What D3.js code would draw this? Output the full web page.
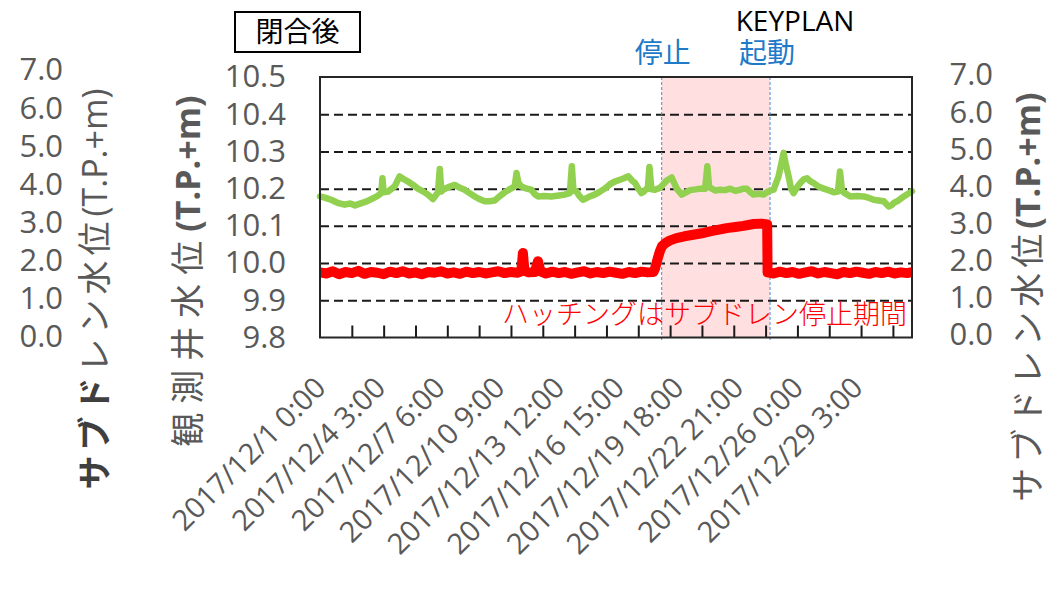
<!DOCTYPE html>
<html><head><meta charset="utf-8">
<script src="https://cdn.jsdelivr.net/npm/d3@7"></script>
<style>
html,body{margin:0;padding:0;background:#fff;}
svg text{font-family:"Open Sans","Noto Sans CJK JP",sans-serif;}
</style></head>
<body><svg id="c" width="1058" height="589"></svg>
<script>
// ---------- data ----------
const startDate = Date.UTC(2017, 11, 1, 0, 0);
const endDate = Date.UTC(2018, 0, 1, 0, 0);
// observation well (green) : hours since 2017/12/1 0:00, level T.P.+m
const greenHours = [0,6,14,22,31,38,44,52,58,64.5,72,77,78.5,80,85.5,93.8,100,105,110.6,117,123,130,135.7,142,148.3,150.5,152.5,154.6,162,169.3,175,181.8,188,194.4,200,207,213,219.5,226,232.1,238,244.7,247,249.5,253,260,265.6,270,274,282,290.7,298,307.5,314,316.5,318.5,322.2,326,330.5,338,345.2,352,357.8,364.5,370.3,377,382,387.5,392,396,400,404,407,410.6,412,414,416.5,421,427.3,435.7,442,448.3,454.6,460,465,472,477.6,484,486.8,489,492.3,497,502.8,509,515.4,522,528,532,536.4,540,544.8,551,557.4,563.7,570,576.3,582.6,585,588.9,592,595.2,600,603.6,608,612,616,620.4,627,633,640,645.6,651,653.5,656,658.2,666.5,675,683.3,690,695.9,702,708.5,712,714.8,718,722,725.3,733.7,739,744];
const greenValues = [10.179,10.176,10.170,10.162,10.157,10.160,10.155,10.161,10.165,10.172,10.180,10.188,10.228,10.190,10.192,10.206,10.233,10.226,10.219,10.210,10.200,10.192,10.184,10.172,10.190,10.253,10.192,10.197,10.205,10.210,10.203,10.197,10.188,10.179,10.172,10.166,10.166,10.168,10.180,10.190,10.198,10.206,10.242,10.215,10.206,10.200,10.197,10.185,10.179,10.180,10.179,10.181,10.184,10.188,10.260,10.195,10.193,10.180,10.170,10.178,10.184,10.192,10.200,10.212,10.219,10.224,10.228,10.233,10.222,10.215,10.200,10.188,10.192,10.200,10.200,10.258,10.198,10.197,10.202,10.222,10.230,10.200,10.184,10.190,10.196,10.198,10.200,10.200,10.260,10.205,10.200,10.195,10.197,10.196,10.200,10.194,10.197,10.200,10.200,10.192,10.184,10.186,10.184,10.193,10.197,10.233,10.296,10.270,10.233,10.200,10.188,10.205,10.215,10.225,10.228,10.220,10.215,10.205,10.200,10.195,10.190,10.192,10.246,10.195,10.190,10.179,10.180,10.179,10.175,10.170,10.168,10.166,10.158,10.152,10.155,10.163,10.166,10.179,10.186,10.193];
// sub-drain pit (red)
const redHours = [0,8,16,24,32,40,48,56,64,72,80,88,96,104,112,120,128,136,144,152,160,168,176,184,192,200,208,216,224,232,240,248,253,255,257,262,270,274,277,284,292,300,308,316,324,332,340,348,356,364,372,380,388,396,404,412,419,421,424,427,429.7,435,440,448,458,469,480,490,500,511,522,532,545,555,562,562.5,570,578,586,594,602,610,618,626,634,642,650,658,666,674,682,690,698,706,714,722,730,738,744];
const redValues = [9.975,9.972,9.978,9.970,9.976,9.973,9.979,9.971,9.976,9.974,9.970,9.977,9.973,9.978,9.972,9.975,9.970,9.976,9.974,9.978,9.972,9.975,9.971,9.977,9.973,9.976,9.972,9.975,9.978,9.973,9.976,9.974,9.978,10.027,9.979,9.975,9.976,10.005,9.978,9.972,9.977,9.973,9.976,9.971,9.975,9.978,9.972,9.976,9.973,9.977,9.974,9.971,9.976,9.973,9.977,9.975,9.976,9.985,10.009,10.031,10.045,10.055,10.061,10.067,10.072,10.076,10.080,10.085,10.089,10.094,10.097,10.100,10.105,10.106,10.104,9.975,9.972,9.977,9.973,9.976,9.971,9.975,9.978,9.972,9.976,9.973,9.970,9.976,9.973,9.977,9.974,9.971,9.976,9.973,9.977,9.972,9.975,9.973,9.976];
// stop / restart of sub-drain (hours)
const stopHour = 429.4, restartHour = 565.6;
const leftTicks = [9.8,9.9,10.0,10.1,10.2,10.3,10.4,10.5];
const gridTicks = [9.9,10.0,10.1,10.2,10.3,10.4];
const subTicks = [0,1,2,3,4,5,6,7];
const xTickHours = d3.range(40, 744, 40);
const xLabelHours = [0,75,150,225,300,375,450,525,600,675];
const xLabels = ["2017/12/1 0:00","2017/12/4 3:00","2017/12/7 6:00","2017/12/10 9:00","2017/12/13 12:00","2017/12/16 15:00","2017/12/19 18:00","2017/12/22 21:00","2017/12/26 0:00","2017/12/29 3:00"];

// ---------- drawing ----------
const H = h => new Date(startDate + h*3600e3);
const svg = d3.select("#c");
const X0=320, X1=912, YT=77, YB=337.5;
const x = d3.scaleUtc().domain([new Date(startDate), new Date(endDate)]).range([X0, X1]);
const y = d3.scaleLinear().domain([9.8, 10.5]).range([YB, YT]);
const ySubL = d3.scaleLinear().domain([0, 7]).range([336.6, 70]);
const ySubR = d3.scaleLinear().domain([0, 7]).range([335, 75]);
const gray = "#595959";
const numFont = 31;

// hatch (pink) region
svg.append("rect").attr("x", x(H(stopHour))).attr("y", YT)
  .attr("width", x(H(restartHour)) - x(H(stopHour))).attr("height", YB-YT)
  .attr("fill", "#ffdfe0");

// gridlines
const grid = svg.append("g").attr("transform", `translate(${X0},0)`)
  .call(d3.axisLeft(y).tickValues(gridTicks).tickSize(-(X1-X0)).tickFormat(""));
grid.select(".domain").remove();
grid.selectAll("line").attr("stroke", "#1a1a1a").attr("stroke-width", 2).attr("stroke-dasharray", "9,5");

// stop/restart dashed lines
[stopHour, restartHour].forEach(h => {
  svg.append("line").attr("x1", x(H(h))).attr("x2", x(H(h))).attr("y1", YT).attr("y2", YB+3)
    .attr("stroke", "#4f8fd0").attr("stroke-width", 1).attr("stroke-dasharray", "3,2");
});

// series
const line = d3.line().x(d => x(H(d[0]))).y(d => y(d[1]));
svg.append("path").datum(greenHours.map((h,i)=>[h,greenValues[i]]))
  .attr("d", line).attr("fill","none").attr("stroke","#92d050").attr("stroke-width",6.5)
  .attr("stroke-linejoin","round").attr("stroke-linecap","round");
svg.append("path").datum(redHours.map((h,i)=>[h,redValues[i]]))
  .attr("d", line).attr("fill","none").attr("stroke","#ff0000").attr("stroke-width",10)
  .attr("stroke-linejoin","round");

// annotation
svg.append("text").attr("x", 907).attr("y", 324).attr("text-anchor","end")
  .attr("fill","#ff0000").attr("font-size",27).attr("font-weight",300)
  .style("font-family",'"Noto Sans CJK JP",sans-serif')
  .text("ハッチングはサブドレン停止期間");

// x ticks (inside, upward)
const xt = svg.append("g").attr("transform", `translate(0,${YB})`)
  .call(d3.axisTop(x).tickValues(xTickHours.map(H)).tickSize(12).tickFormat(""));
xt.select(".domain").remove();
xt.selectAll("line").attr("stroke","#1a1a1a").attr("stroke-width",2);

// frame
svg.append("rect").attr("x",X0).attr("y",YT).attr("width",X1-X0).attr("height",YB-YT)
  .attr("fill","none").attr("stroke","#262626").attr("stroke-width",2);

// x labels
const xl = svg.append("g").attr("transform", `translate(0,${YB})`)
  .call(d3.axisBottom(x).tickValues(xLabelHours.map(H)).tickSize(0)
    .tickFormat((d,i) => xLabels[i]));
xl.select(".domain").remove();
xl.selectAll("text").attr("x",0).attr("y",0).attr("dy",0)
  .attr("transform","translate(7,52) rotate(-45)").attr("text-anchor","end")
  .attr("fill",gray).attr("font-size",29).style("font-family",'"Open Sans",sans-serif');

// left axis (observation well)
const yl = svg.append("g").attr("transform","translate(286,0)")
  .call(d3.axisLeft(y).tickValues(leftTicks).tickSize(0).tickPadding(0).tickFormat(d3.format(".1f")));
yl.select(".domain").remove();
yl.selectAll("text").attr("fill",gray).attr("font-size",numFont).style("font-family",'"Open Sans",sans-serif');

// far-left sub-drain axis
const ya = svg.append("g").attr("transform","translate(63,0)")
  .call(d3.axisLeft(ySubL).tickValues(subTicks).tickSize(0).tickPadding(0).tickFormat(d3.format(".1f")));
ya.select(".domain").remove();
ya.selectAll("text").attr("fill",gray).attr("font-size",numFont).style("font-family",'"Open Sans",sans-serif');

// right sub-drain axis
const yr = svg.append("g").attr("transform","translate(993,0)")
  .call(d3.axisLeft(ySubR).tickValues(subTicks).tickSize(0).tickPadding(0).tickFormat(d3.format(".1f")));
yr.select(".domain").remove();
yr.selectAll("text").attr("fill",gray).attr("font-size",numFont).style("font-family",'"Open Sans",sans-serif');

// vertical titles
function vTitle(cx, cy, parts){
  const t = svg.append("text").attr("transform",`translate(${cx},${cy}) rotate(-90)`)
    .attr("text-anchor","middle").attr("dy","0.35em").attr("font-size",34);
  parts.forEach(p => {
    const s = t.append("tspan").text(p.t).attr("fill",p.c||gray).attr("font-weight",p.w||400);
    if (p.ls) s.attr("letter-spacing", p.ls);
    if (p.f) s.style("font-family", p.f);
  });
}
const cjk = '"Noto Sans CJK JP",sans-serif';
vTitle(95, 289, [{t:"サブド",c:"#3f3f3f",w:700,ls:5,f:cjk},{t:"レン水位",ls:5,f:cjk},{t:"(T.P.+m)"}]);
vTitle(188, 271, [{t:"観測井水位",ls:9,f:cjk},{t:"(T.P.+m)",w:700}]);
vTitle(1028, 297, [{t:"サブドレン水位",ls:5,f:cjk},{t:"(T.P.+m)",w:700}]);

// label box
svg.append("rect").attr("x",235).attr("y",12).attr("width",125).attr("height",40)
  .attr("fill","#fff").attr("stroke","#000").attr("stroke-width",2);
svg.append("text").attr("x",297.5).attr("y",42).attr("text-anchor","middle")
  .attr("font-size",28).attr("fill","#000").style("font-family",cjk).text("閉合後");

// top labels
svg.append("text").attr("x",795).attr("y",31).attr("text-anchor","middle")
  .attr("font-size",28).attr("fill","#000").text("KEYPLAN");
svg.append("text").attr("x",x(H(stopHour))+1).attr("y",63).attr("text-anchor","middle")
  .attr("font-size",28).attr("fill","#1f7ac8").style("font-family",cjk).text("停止");
svg.append("text").attr("x",x(H(restartHour))-3).attr("y",63).attr("text-anchor","middle")
  .attr("font-size",28).attr("fill","#1f7ac8").style("font-family",cjk).text("起動");
</script></body></html>
